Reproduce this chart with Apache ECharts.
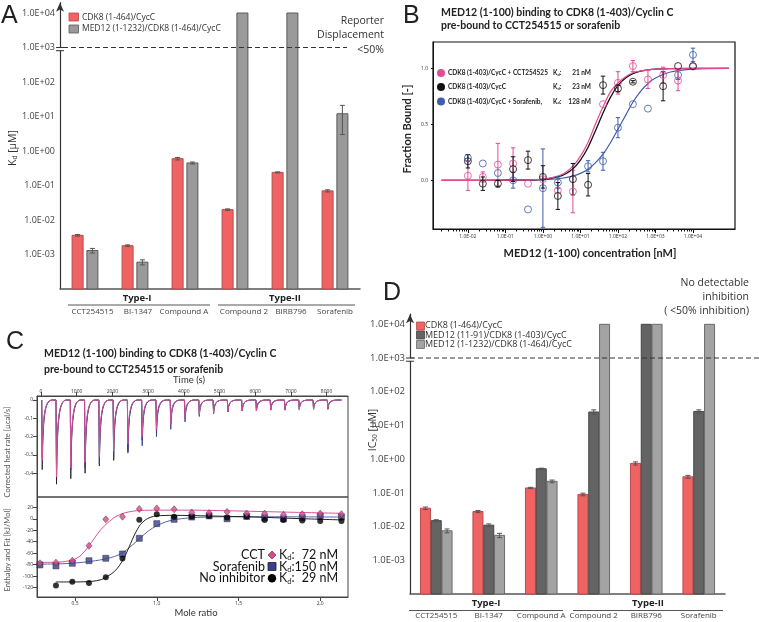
<!DOCTYPE html>
<html>
<head>
<meta charset="utf-8">
<title>CDK8 / MED12 inhibitor binding</title>
<script src="https://cdn.jsdelivr.net/npm/echarts@6.0.0/dist/echarts.min.js"></script>
<style>
  html, body { margin: 0; padding: 0; background: #fff; }
  #chart { width: 759px; height: 622px; }
</style>
</head>
<body>
<div id="chart"></div>
<script>
// ---------- data ----------
const compounds = ['CCT254515', 'BI-1347', 'Compound A', 'Compound 2', 'BIRB796', 'Sorafenib']

// A: reporter displacement, Kd [uM]
const kdCdk8 = [0.0036, 0.0018, 0.60, 0.020, 0.24, 0.070]
const kdCdk8Sd = [0.0002, 0.0001, 0.05, 0.001, 0.008, 0.005]
const kdMed12 = [0.0013, 0.00060, 0.45, 10000, 10000, 12]
const kdMed12Sd = [0.0002, 0.0001, 0.03, 0, 0, 9]

// D: IC50 [uM]
const icCdk8 = [0.035, 0.028, 0.14, 0.090, 0.75, 0.30]
const icCdk8Sd = [0.003, 0.002, 0.006, 0.008, 0.08, 0.03]
const icMed12Short = [0.015, 0.011, 0.52, 25, 10000, 26]
const icMed12ShortSd = [0.001, 0.001, 0.02, 4, 0, 3]
const icMed12Long = [0.0075, 0.0055, 0.22, 10000, 10000, 10000]
const icMed12LongSd = [0.001, 0.0008, 0.02, 0, 0, 0]

// B: MST titration, fraction bound vs MED12 (1-100) [nM]
const med12Conc = [0.01, 0.025, 0.063, 0.16, 0.4, 1, 2.5, 6.3, 16, 40, 100, 250, 630, 1600, 4000, 10000]
const fbCct = [0.04, 0.03, 0.14, 0.15, -0.03, 0.01, -0.09, -0.10, null, 0.68, 0.87, 1.02, 0.90, 0.94, 0.89, 1.015]
const fbCctErr = [0.13, 0.045, 0.19, 0.14, 0, 0, 0, 0.19, 0, 0, 0.1, 0.05, 0.08, 0.07, 0.09, 0]
const fbApo = [0.17, -0.03, -0.03, 0.10, 0.18, 0.03, -0.14, 0.01, -0.04, 0.85, 0.82, 0.88, null, 0.84, 1.02, 1.02]
const fbApoErr = [0.06, 0.06, 0.03, 0.11, 0.08, 0.1, 0.12, 0.14, 0.1, 0.08, 0.03, 0.01, 0, 0.13, 0, 0]
const fbSora = [0.20, 0.15, 0.065, 0.0, -0.26, -0.07, -0.02, null, 0.125, 0.17, 0.47, 0.68, 0.64, null, 0.94, 1.12]
const fbSoraErr = [0.03, 0, 0, 0.07, 0, 0.35, 0.05, 0, 0.05, 0.08, 0.09, 0, 0, 0, 0.04, 0.06]
const fitConc = [0.002, 0.1, 1, 3.2, 6.3, 10, 16, 25, 40, 63, 100, 160, 250, 400, 630, 1000, 2500, 10000, 90000]
const fitCct = [0, 0.0005, 0.011, 0.052, 0.127, 0.216, 0.34, 0.5, 0.656, 0.79, 0.87, 0.925, 0.96, 0.976, 0.986, 0.992, 0.997, 1, 1]
const fitApo = [0, 0.0004, 0.009, 0.042, 0.103, 0.18, 0.295, 0.44, 0.60, 0.74, 0.847, 0.913, 0.952, 0.974, 0.986, 0.993, 0.998, 1, 1]
const fitSora = [0, 0.001, 0.005, 0.018, 0.038, 0.062, 0.099, 0.155, 0.233, 0.335, 0.456, 0.58, 0.697, 0.793, 0.864, 0.913, 0.967, 0.993, 1]

// C: ITC, injection peaks [ucal/s]
const injTime = [20, 420, 820, 1220, 1620, 2020, 2420, 2820, 3220, 3620, 4020, 4420, 4820, 5220, 5620, 6020, 6420, 6820, 7220, 7620, 8020]
const heatApo = [-0.38, -0.46, -0.43, -0.40, -0.36, -0.33, -0.28, -0.22, -0.17, -0.13, -0.10, -0.08, -0.07, -0.065, -0.06, -0.06, -0.055, -0.055, -0.05, -0.05, -0.05]
const heatSora = [-0.32, -0.40, -0.38, -0.37, -0.35, -0.32, -0.29, -0.25, -0.20, -0.16, -0.12, -0.09, -0.075, -0.065, -0.06, -0.06, -0.055, -0.055, -0.05, -0.05, -0.05]
const heatCct = [-0.33, -0.42, -0.37, -0.34, -0.31, -0.28, -0.24, -0.20, -0.16, -0.13, -0.10, -0.08, -0.07, -0.065, -0.06, -0.06, -0.055, -0.055, -0.055, -0.05, -0.05]

// C: integrated enthalpy [kJ/mol] vs mole ratio
const moleRatio = [0.285, 0.383, 0.483, 0.585, 0.688, 0.79, 0.893, 1.0, 1.106, 1.214, 1.32, 1.43, 1.55, 1.66, 1.775, 1.89, 2.0, 2.13]
const dhCct = [-77.5, -76.4, -73, -47, -1, 3.6, 17, 18, 16.5, 11, 10, 12, 9, 9, 7, 8, 9, 8]
const dhSora = [-80.4, -82, -77.5, -73, -68.8, -61.3, -34, -8.5, -1, 3, 5, 0, 4, 2, 0, 2, 4, 3]
const dhApo = [null, -116, -109.5, -112, -102, -69, -1.6, 7.8, 3.6, 4, 5, 2, 4, -2, -2, -3, -4, -4]
const fitRatioCct = [0.285, 0.4, 0.48, 0.53, 0.58, 0.62, 0.66, 0.7, 0.75, 0.8, 0.85, 0.9, 1.0, 1.2, 1.5, 1.8, 2.13]
const fitDhCct = [-76, -75.5, -72, -65, -49, -33, -18, -7, 4, 10, 13, 14.5, 15, 15, 13.5, 11.5, 9.5]
const fitRatioSora = [0.285, 0.4, 0.5, 0.6, 0.7, 0.78, 0.85, 0.9, 0.95, 1.0, 1.05, 1.1, 1.2, 1.4, 1.7, 2.13]
const fitDhSora = [-79, -78.5, -77, -74, -69, -61, -46, -33, -21, -12, -6, -2, 1.5, 3.5, 3.5, 3]
const fitRatioApo = [0.383, 0.5, 0.6, 0.66, 0.7, 0.74, 0.77, 0.8, 0.82, 0.84, 0.86, 0.88, 0.9, 0.93, 0.96, 1.0, 1.1, 1.3, 1.6, 1.9, 2.13]
const fitDhApo = [-110, -110, -109, -106, -100, -92, -82, -68, -56, -43, -30, -19, -10, -2, 2.5, 5, 6, 5, 3, 0, -2]

// ---------- colours ----------
const red = '#EF6363', redEdge = '#B84A4A'
const grayA = '#9A9A9A', grayAEdge = '#5A5A5A'
const darkD = '#646464', darkDEdge = '#444'
const lightD = '#A3A3A3', lightDEdge = '#6A6A6A'
const pink = '#E34B97', blue = '#3E5DAA', ink = '#111'

// ---------- helpers ----------
const expLabel = e => '1.0E' + (e < 0 ? '-' : '+') + String(Math.abs(e)).padStart(2, '0')
const logLabel = v => {
  const e = Math.log10(v), r = Math.round(e)
  if (Math.abs(e - r) > 1e-6 || r < -3) return ''
  return expLabel(r)
}
const comma = v => (v === 0 ? '0' : v.toFixed(1).replace('.', ','))

function barSeries (xi, yi, values, offset, width, fill, stroke) {
  return {
    type: 'custom', xAxisIndex: xi, yAxisIndex: yi, silent: true,
    data: values.map((v, i) => [i, v]),
    renderItem: (params, api) => {
      const top = api.coord([api.value(0), api.value(1)])
      const base = api.coord([api.value(0), 1e-4])
      return {
        type: 'rect',
        shape: { x: top[0] + offset - width / 2, y: top[1], width, height: base[1] - top[1] },
        style: { fill, stroke, lineWidth: 1 }
      }
    }
  }
}

function errSeries (xi, yi, data, offset, color, cap) {
  return {
    type: 'custom', xAxisIndex: xi, yAxisIndex: yi, silent: true, z: 4,
    data,
    renderItem: (params, api) => {
      const lo = api.coord([api.value(0), api.value(1)])
      const hi = api.coord([api.value(0), api.value(2)])
      const x = lo[0] + offset
      const st = { stroke: color, lineWidth: 1 }
      return {
        type: 'group',
        children: [
          { type: 'line', shape: { x1: x, y1: lo[1], x2: x, y2: hi[1] }, style: st },
          { type: 'line', shape: { x1: x - cap, y1: lo[1], x2: x + cap, y2: lo[1] }, style: st },
          { type: 'line', shape: { x1: x - cap, y1: hi[1], x2: x + cap, y2: hi[1] }, style: st }
        ]
      }
    }
  }
}
const barErr = (vals, sds) => vals.map((v, i) => [i, v - sds[i], v + sds[i]]).filter(d => d[2] > d[1])

const mstPts = ys => med12Conc.map((c, i) => [Math.log10(c), ys[i]]).filter(p => p[1] != null)
const mstErr = (ys, es) => med12Conc.map((c, i) => [Math.log10(c), ys[i] - es[i], ys[i] + es[i]])
  .filter((p, i) => ys[i] != null && es[i] > 0)
const mstFit = ys => fitConc.map((c, i) => [Math.log10(c), ys[i]])

function thermoSeries (heat, color) {
  return {
    type: 'custom', xAxisIndex: 3, yAxisIndex: 2, silent: true,
    data: injTime.map((t, i) => [t, heat[i]]),
    renderItem: (params, api) => {
      const t = api.value(0), h = api.value(1)
      const a = api.coord([t, 0]), b = api.coord([t + 15, h])
      const c1 = api.coord([t + 35, h * 0.2]), c2 = api.coord([t + 90, 0])
      const d = api.coord([t + 300, 0]), e = api.coord([t + 400, 0])
      const st = { stroke: color, lineWidth: 0.9, fill: null }
      return {
        type: 'group',
        children: [
          { type: 'line', shape: { x1: a[0], y1: a[1], x2: b[0], y2: b[1] }, style: st },
          { type: 'bezierCurve', shape: { x1: b[0], y1: b[1], x2: d[0], y2: d[1], cpx1: c1[0], cpy1: c1[1], cpx2: c2[0], cpy2: c2[1] }, style: st },
          { type: 'line', shape: { x1: d[0], y1: d[1], x2: e[0], y2: e[1] }, style: st }
        ]
      }
    }
  }
}
const pairs = (xs, ys) => xs.map((x, i) => [x, ys[i]]).filter(p => p[1] != null)

const minorTicks = []
for (let e = -3; e <= 3; e++) {
  for (let k = 2; k <= 9; k++) {
    const v = e + Math.log10(k)
    if (v > -2.93) minorTicks.push(v)
  }
}

const tiny = { fontSize: 5, color: '#333', fontFamily: 'Open Sans' }
const noSplit = { show: false }

// ---------- chart ----------
const chart = echarts.init(document.getElementById('chart'), null, { renderer: 'canvas' })

const option = {
  backgroundColor: '#fff',
  animation: false,
  textStyle: { fontFamily: 'Open Sans' },
  grid: [
    { left: 60, top: 2.65, width: 300, height: 286.35 },
    { left: 433, top: 42, width: 302, height: 187, show: true, borderColor: ink, borderWidth: 1.2, backgroundColor: 'transparent' },
    { left: 37, top: 396, width: 311, height: 101, show: true, borderColor: '#444', borderWidth: 1, backgroundColor: 'transparent' },
    { left: 37, top: 497, width: 311, height: 100, show: true, borderColor: '#444', borderWidth: 1, backgroundColor: 'transparent' },
    { left: 410, top: 314.2, width: 315, height: 279.8 }
  ],
  xAxis: [
    {
      gridIndex: 0, type: 'category', data: compounds,
      axisLine: { lineStyle: { color: '#555', width: 1.5 } },
      axisTick: { show: false },
      axisLabel: { show: false }
    },
    {
      gridIndex: 1, type: 'value', position: 'bottom', min: -2.93, max: 5.12, splitLine: noSplit,
      axisLine: { onZero: false, lineStyle: { color: ink } },
      axisTick: { customValues: [-2, -1, 0, 1, 2, 3, 4], length: 4, lineStyle: { color: ink } },
      axisLabel: { customValues: [-2, -1, 0, 1, 2, 3, 4], formatter: expLabel, margin: 5, ...tiny }
    },
    {
      gridIndex: 1, type: 'value', position: 'bottom', offset: 0, min: -2.93, max: 5.12, splitLine: noSplit,
      axisLine: { show: false, onZero: false },
      axisTick: { customValues: minorTicks, length: 2.5, lineStyle: { color: ink } },
      axisLabel: { show: false }
    },
    {
      gridIndex: 2, type: 'value', position: 'top', min: -112, max: 8600, splitLine: noSplit,
      axisLine: { onZero: false, lineStyle: { color: '#444' } },
      axisTick: { customValues: [0, 1000, 2000, 3000, 4000, 5000, 6000, 7000, 8000], length: 4, lineStyle: { color: '#444' } },
      axisLabel: { customValues: [0, 1000, 2000, 3000, 4000, 5000, 6000, 7000, 8000], formatter: v => String(v), margin: 2, ...tiny }
    },
    {
      gridIndex: 3, type: 'value', min: 0.267, max: 2.17, splitLine: noSplit,
      axisLine: { onZero: false, lineStyle: { color: '#444' } },
      axisTick: { customValues: [0.5, 1, 1.5, 2], length: 4, lineStyle: { color: '#444' } },
      axisLabel: { customValues: [0.5, 1, 1.5, 2], formatter: comma, margin: 4, ...tiny }
    },
    {
      gridIndex: 4, type: 'category', data: compounds,
      axisLine: { lineStyle: { color: '#555', width: 1.5 } },
      axisTick: { show: false },
      axisLabel: { interval: 0, fontSize: 8, color: '#444', margin: 18 }
    }
  ],
  yAxis: [
    {
      gridIndex: 0, type: 'log', logBase: 10, min: 1e-4, max: Math.pow(10, 4.3), interval: 1,
      splitLine: noSplit, axisTick: { show: false },
      axisLine: { show: true, lineStyle: { color: '#333', width: 1.2 }, symbol: ['none', 'arrow'], symbolSize: [6, 9] },
      axisLabel: { formatter: logLabel, fontSize: 9, color: '#444', margin: 5 }
    },
    {
      gridIndex: 1, type: 'value', min: -0.435, max: 1.235, splitLine: noSplit,
      axisLine: { onZero: false, lineStyle: { color: ink } },
      axisTick: { customValues: [0, 0.5, 1], length: 2, lineStyle: { color: ink } },
      axisLabel: { customValues: [0, 0.5, 1], formatter: v => v.toFixed(1), margin: 5, ...tiny }
    },
    {
      gridIndex: 2, type: 'value', min: -0.53, max: 0.022, splitLine: noSplit,
      axisLine: { onZero: false, lineStyle: { color: '#444' } },
      axisTick: { customValues: [0, -0.1, -0.2, -0.3, -0.4], length: 4, lineStyle: { color: '#444' } },
      axisLabel: { customValues: [0, -0.1, -0.2, -0.3, -0.4], formatter: comma, margin: 4, ...tiny }
    },
    {
      gridIndex: 3, type: 'value', min: -136.2, max: 37.9, splitLine: noSplit,
      axisLine: { onZero: false, lineStyle: { color: '#444' } },
      axisTick: { customValues: [20, 0, -20, -40, -60, -80, -100, -120], length: 4, lineStyle: { color: '#444' } },
      axisLabel: { customValues: [20, 0, -20, -40, -60, -80, -100, -120], margin: 4, ...tiny }
    },
    {
      gridIndex: 4, type: 'log', logBase: 10, min: 1e-4, max: Math.pow(10, 4.3), interval: 1,
      splitLine: noSplit, axisTick: { show: false },
      axisLine: { show: true, lineStyle: { color: '#333', width: 1.2 }, symbol: ['none', 'arrow'], symbolSize: [6, 9] },
      axisLabel: { formatter: logLabel, fontSize: 9.5, color: '#444', margin: 5 }
    }
  ],
  series: [
    // A
    barSeries(0, 0, kdCdk8, -7.4, 11, red, redEdge),
    barSeries(0, 0, kdMed12, 7.4, 11, grayA, grayAEdge),
    errSeries(0, 0, barErr(kdCdk8, kdCdk8Sd), -7.4, '#555', 2.5),
    errSeries(0, 0, barErr(kdMed12, kdMed12Sd), 7.4, '#555', 2.5),

    // B
    { type: 'line', xAxisIndex: 1, yAxisIndex: 1, data: mstFit(fitSora), smooth: 0.3, showSymbol: false, silent: true, lineStyle: { color: blue, width: 1.2 } },
    { type: 'line', xAxisIndex: 1, yAxisIndex: 1, data: mstFit(fitApo), smooth: 0.3, showSymbol: false, silent: true, lineStyle: { color: ink, width: 1.3 } },
    { type: 'line', xAxisIndex: 1, yAxisIndex: 1, data: mstFit(fitCct), smooth: 0.3, showSymbol: false, silent: true, lineStyle: { color: pink, width: 1.2 } },
    errSeries(1, 1, mstErr(fbSora, fbSoraErr), 0, blue, 2.2),
    errSeries(1, 1, mstErr(fbCct, fbCctErr), 0, pink, 2.2),
    errSeries(1, 1, mstErr(fbApo, fbApoErr), 0, ink, 2.2),
    { type: 'scatter', xAxisIndex: 1, yAxisIndex: 1, data: mstPts(fbSora), symbol: 'circle', symbolSize: 7, z: 5, itemStyle: { color: 'rgba(0,0,0,0)', borderColor: blue, borderWidth: 1 } },
    { type: 'scatter', xAxisIndex: 1, yAxisIndex: 1, data: mstPts(fbCct), symbol: 'circle', symbolSize: 7, z: 5, itemStyle: { color: 'rgba(0,0,0,0)', borderColor: pink, borderWidth: 1 } },
    { type: 'scatter', xAxisIndex: 1, yAxisIndex: 1, data: mstPts(fbApo), symbol: 'circle', symbolSize: 7, z: 5, itemStyle: { color: 'rgba(0,0,0,0)', borderColor: ink, borderWidth: 1 } },

    // C thermogram
    thermoSeries(heatApo, '#222'),
    thermoSeries(heatSora, '#34408F'),
    thermoSeries(heatCct, '#E0509C'),

    // C isotherm
    { type: 'line', xAxisIndex: 4, yAxisIndex: 3, data: pairs(fitRatioSora, fitDhSora), smooth: 0.3, showSymbol: false, silent: true, lineStyle: { color: '#5C63A8', width: 1 } },
    { type: 'line', xAxisIndex: 4, yAxisIndex: 3, data: pairs(fitRatioApo, fitDhApo), smooth: 0.3, showSymbol: false, silent: true, lineStyle: { color: '#222', width: 1 } },
    { type: 'line', xAxisIndex: 4, yAxisIndex: 3, data: pairs(fitRatioCct, fitDhCct), smooth: 0.3, showSymbol: false, silent: true, lineStyle: { color: '#E0509C', width: 1 } },
    { type: 'scatter', xAxisIndex: 4, yAxisIndex: 3, data: pairs(moleRatio, dhSora), symbol: 'rect', symbolSize: 6, z: 5, itemStyle: { color: '#3A3F8E', borderColor: '#222', borderWidth: 0.6 } },
    { type: 'scatter', xAxisIndex: 4, yAxisIndex: 3, data: pairs(moleRatio, dhApo), symbol: 'circle', symbolSize: 6, z: 5, itemStyle: { color: '#000' } },
    { type: 'scatter', xAxisIndex: 4, yAxisIndex: 3, data: pairs(moleRatio, dhCct), symbol: 'diamond', symbolSize: [6, 7], z: 6, itemStyle: { color: '#D9488F', borderColor: '#333', borderWidth: 0.6 } },

    // D
    barSeries(5, 4, icCdk8, -10.8, 10, red, redEdge),
    barSeries(5, 4, icMed12Short, 0, 10, darkD, darkDEdge),
    barSeries(5, 4, icMed12Long, 10.8, 10, lightD, lightDEdge),
    errSeries(5, 4, barErr(icCdk8, icCdk8Sd), -10.8, '#555', 2.5),
    errSeries(5, 4, barErr(icMed12Short, icMed12ShortSd), 0, '#555', 2.5),
    errSeries(5, 4, barErr(icMed12Long, icMed12LongSd), 10.8, '#555', 2.5)
  ]
}
chart.setOption(option)

// ---------- annotations ----------
const txt = (x, y, text, font, o = {}) => ({
  type: 'text', x, y, rotation: o.rot || 0, z: 10, silent: true,
  style: { text, font, fill: o.color || '#222', align: o.align || 'left', verticalAlign: 'middle', rich: o.rich }
})
const seg = (x1, y1, x2, y2, o = {}) => ({
  type: 'line', z: 10, silent: true,
  shape: { x1, y1, x2, y2 },
  style: { stroke: o.color || '#555', lineWidth: o.width || 1, lineDash: o.dash || null }
})
const box = (x, y, w, h, fill, stroke) => ({ type: 'rect', z: 10, silent: true, shape: { x, y, width: w, height: h }, style: { fill, stroke, lineWidth: 0.8 } })
const subRich = (size, weight) => ({
  a: { fontSize: size, fontFamily: 'Lato', fontWeight: weight, fill: '#222', color: '#222' },
  s: { fontSize: size * 0.62, fontFamily: 'Lato', fontWeight: weight, fill: '#222', color: '#222', padding: [size * 0.45, 0, 0, 0] }
})
const subRichOS = (size) => ({
  a: { fontSize: size, fontFamily: 'Open Sans', fill: '#333', color: '#333' },
  s: { fontSize: size * 0.62, fontFamily: 'Open Sans', fill: '#333', color: '#333', padding: [size * 0.45, 0, 0, 0] }
})

const yA = chart.convertToPixel({ yAxisIndex: 0 }, 1000)
const yD = chart.convertToPixel({ yAxisIndex: 4 }, 1000)

const letter = '25px "Liberation Sans"'
const titleFont = 'bold 10.5px Lato'
const legFont = '8.5px "Open Sans"'
const legendB = 'bold 6.5px Lato'
const catFont = '8px "Open Sans"'

// category label centres under panel A, as placed in the original figure
const catLabelXA = [92.5, 138, 184, 244, 291, 335]

const graphic = [
  // panel letters
  txt(1, 16, 'A', letter), txt(403, 16, 'B', letter), txt(6, 342, 'C', letter), txt(383, 293, 'D', letter),

  // A legend and notes
  box(69, 13, 9.5, 8, red, redEdge), txt(82, 17.5, 'CDK8 (1-464)/CycC', legFont, { color: '#333' }),
  box(69, 25, 9.5, 8, grayA, grayAEdge), txt(82, 29, 'MED12 (1-1232)/CDK8 (1-464)/CycC', legFont, { color: '#333' }),
  txt(384, 21.5, 'Reporter', '10.5px "Open Sans"', { align: 'right', color: '#333' }),
  txt(384, 35.5, 'Displacement', '10.5px "Open Sans"', { align: 'right', color: '#333' }),
  txt(384, 50, '<50%', '10.5px "Open Sans"', { align: 'right', color: '#333' }),
  seg(63, yA, 347, yA, { dash: [5, 3], color: '#333' }),
  box(56, yA + 0.5, 8, 2.5, '#fff', null),
  seg(56, yA, 64, yA, { color: '#333' }), seg(56, yA + 3.2, 64, yA + 3.2, { color: '#333' }),
  txt(13, 148, '{a|K}{s|d}{a| [µM]}', '10px "Open Sans"', { rot: Math.PI / 2, align: 'center', rich: subRichOS(10.5) }),
  txt(137, 298, 'Type-I', 'bold 9.5px "Open Sans"', { align: 'center' }),
  txt(285, 298, 'Type-II', 'bold 9.5px "Open Sans"', { align: 'center' }),
  seg(68, 305, 210, 305), seg(218, 305, 355, 305),
  ...compounds.map((c, i) => txt(catLabelXA[i], 312, c, catFont, { align: 'center', color: '#444' })),

  // B titles, legend, axis names
  txt(441, 12.3, 'MED12 (1-100) binding to CDK8 (1-403)/Cyclin C', titleFont),
  txt(441, 25.7, 'pre-bound to CCT254515 or sorafenib', titleFont),
  { type: 'circle', z: 10, shape: { cx: 441, cy: 73, r: 4 }, style: { fill: pink } },
  { type: 'circle', z: 10, shape: { cx: 441, cy: 87, r: 4 }, style: { fill: ink } },
  { type: 'circle', z: 10, shape: { cx: 441, cy: 101.5, r: 4 }, style: { fill: blue } },
  txt(448, 73, 'CDK8 (1-403)/CycC + CCT254525', legendB),
  txt(448, 87, 'CDK8 (1-403)/CycC', legendB),
  txt(448, 101.5, 'CDK8 (1-403)/CycC + Sorafenib,', legendB),
  txt(553, 73, '{a|K}{s|d}{a|:}', legendB, { rich: subRich(6.5, 'bold') }),
  txt(553, 87, '{a|K}{s|d}{a|:}', legendB, { rich: subRich(6.5, 'bold') }),
  txt(553, 101.5, '{a|K}{s|d}{a|:}', legendB, { rich: subRich(6.5, 'bold') }),
  txt(591, 73, '21 nM', legendB, { align: 'right' }),
  txt(591, 87, '23 nM', legendB, { align: 'right' }),
  txt(591, 101.5, '128 nM', legendB, { align: 'right' }),
  txt(590, 253, 'MED12 (1-100) concentration [nM]', 'bold 11px Lato', { align: 'center' }),
  txt(407, 129, 'Fraction Bound [-]', 'bold 11px Lato', { align: 'center', rot: Math.PI / 2 }),

  // C titles, axis names, legend
  txt(44, 353.5, 'MED12 (1-100) binding to CDK8 (1-403)/Cyclin C', titleFont),
  txt(44, 370, 'pre-bound to CCT254515 or sorafenib', titleFont),
  txt(189, 379.5, 'Time (s)', '9.5px Lato', { align: 'center', color: '#333' }),
  txt(196, 613, 'Mole ratio', '9.5px Lato', { align: 'center', color: '#333' }),
  txt(8, 452, 'Corrected heat rate [µcal/s]', '7.5px Lato', { align: 'center', rot: Math.PI / 2, color: '#555' }),
  txt(8, 550, 'Enthalpy and Fit [kJ/Mol]', '7.5px Lato', { align: 'center', rot: Math.PI / 2, color: '#555' }),
  txt(265, 555, 'CCT', '12.5px Lato', { align: 'right', color: '#111' }),
  txt(265, 566.5, 'Sorafenib', '12.5px Lato', { align: 'right', color: '#111' }),
  txt(265, 578.3, 'No inhibitor', '12.5px Lato', { align: 'right', color: '#111' }),
  { type: 'polygon', z: 10, shape: { points: [[272, 551], [276, 555], [272, 559], [268, 555]] }, style: { fill: '#D9488F', stroke: '#333', lineWidth: 0.6 } },
  box(268, 562.5, 8, 8, '#3A3F8E', '#222'),
  { type: 'circle', z: 10, shape: { cx: 272, cy: 578.3, r: 4.2 }, style: { fill: '#000' } },
  txt(279, 555, '{a|K}{s|d}{a|:}', '12.5px Lato', { rich: subRich(12.5, 'normal') }),
  txt(279, 566.5, '{a|K}{s|d}{a|:}', '12.5px Lato', { rich: subRich(12.5, 'normal') }),
  txt(279, 578.3, '{a|K}{s|d}{a|:}', '12.5px Lato', { rich: subRich(12.5, 'normal') }),
  txt(338, 555, '72 nM', '12.5px Lato', { align: 'right', color: '#111' }),
  txt(338, 566.5, '150 nM', '12.5px Lato', { align: 'right', color: '#111' }),
  txt(338, 578.3, '29 nM', '12.5px Lato', { align: 'right', color: '#111' }),

  // D legend and notes
  box(416.5, 322, 8, 8, red, redEdge), txt(425, 325.7, 'CDK8 (1-464)/CycC', '9px "Open Sans"', { color: '#333' }),
  box(416.5, 331, 8, 8, darkD, darkDEdge), txt(425, 335, 'MED12 (11-91)/CDK8 (1-403)/CycC', '9px "Open Sans"', { color: '#333' }),
  box(416.5, 340.5, 8, 8, lightD, lightDEdge), txt(425, 344.3, 'MED12 (1-1232)/CDK8 (1-464)/CycC', '9px "Open Sans"', { color: '#333' }),
  txt(749, 283, 'No detectable', '10.5px "Open Sans"', { align: 'right', color: '#333' }),
  txt(749, 297, 'inhibition', '10.5px "Open Sans"', { align: 'right', color: '#333' }),
  txt(749, 311, '( <50% inhibition)', '10.5px "Open Sans"', { align: 'right', color: '#333' }),
  seg(410, yD, 759, yD, { dash: [5, 3], color: '#333' }),
  box(406, yD + 0.5, 8, 2.5, '#fff', null),
  seg(406, yD, 414, yD, { color: '#333' }), seg(406, yD + 3.2, 414, yD + 3.2, { color: '#333' }),
  txt(373, 430, '{a|IC}{s|50}{a| [µM]}', '10px "Open Sans"', { rot: Math.PI / 2, align: 'center', rich: subRichOS(10.5) }),
  txt(486, 603, 'Type-I', 'bold 9.5px "Open Sans"', { align: 'center' }),
  txt(648, 603, 'Type-II', 'bold 9.5px "Open Sans"', { align: 'center' }),
  seg(409, 610.5, 563, 610.5), seg(573, 610.5, 723, 610.5)
]

chart.setOption({ graphic })
</script>
</body>
</html>
